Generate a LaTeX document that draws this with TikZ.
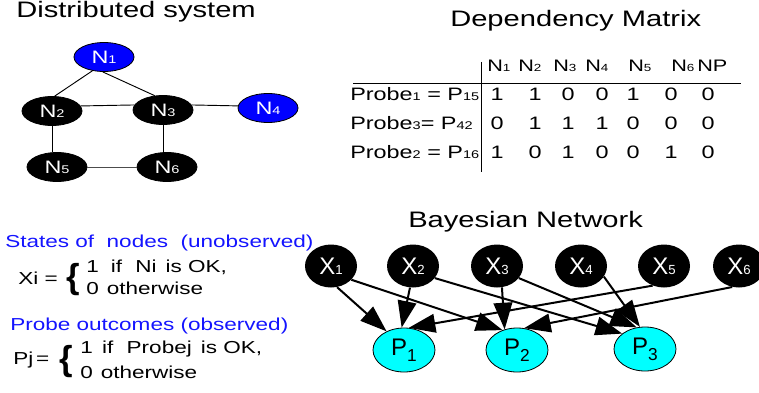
\documentclass[tikz,border=0pt]{standalone}
\usepackage{fontspec}
\usepackage{graphicx}
\setmainfont{Liberation Sans}[FakeStretch=1.3]
\newfontfamily\plainsf{Liberation Sans}
\usetikzlibrary{shapes.geometric,arrows.meta}
\newcommand\sbs[1]{\scalebox{0.62}{#1}}
\newcommand\lsb[1]{\raisebox{-0.45ex}{\scalebox{0.72}{#1}}}
\newcommand\xsb[1]{\scalebox{0.55}{#1}}
\definecolor{nodeblue}{RGB}{0,0,255}
\definecolor{probecyan}{RGB}{0,255,255}
\definecolor{labelblue}{RGB}{20,20,255}
\begin{document}
\begin{tikzpicture}[x=0.75pt,y=-0.75pt,
  title/.style={font=\fontsize{16.8}{18}\selectfont, anchor=base west, inner sep=0},
  gnode/.style={ellipse, draw=black, line width=0.6pt, fill=black, text=white,
    minimum width=45pt, minimum height=21.75pt, inner sep=0, font=\fontsize{13.5}{14}\selectfont},
  bnode/.style={gnode, fill=nodeblue},
  gedge/.style={line width=0.7pt},
  xnode/.style={ellipse, fill=black, text=white, minimum width=39pt, minimum height=32.25pt,
    inner sep=0, font=\plainsf\fontsize{18}{18}\selectfont},
  pnode/.style={ellipse, draw=black, line width=0.6pt, fill=probecyan, minimum width=46.5pt,
    minimum height=33pt, inner sep=0, font=\plainsf\fontsize{18}{18}\selectfont},
  bedge/.style={line width=1.5pt, -{Triangle[length=20pt,width=14pt]}},
  mhead/.style={font=\fontsize{12.5}{14}\selectfont, inner sep=0, anchor=base west},
  mtext/.style={font=\fontsize{13.5}{14}\selectfont, inner sep=0},
  rule/.style={line width=0.75pt},
  btext/.style={font=\fontsize{13}{14}\selectfont, text=labelblue, inner sep=0, anchor=base west},
  etext/.style={font=\fontsize{13}{14}\selectfont, inner sep=0, anchor=base west},
  brace/.style={font=\plainsf\bfseries\fontsize{26}{26}\selectfont, inner sep=0}
]
\useasboundingbox (0,0) rectangle (759,392);
\clip (0,0) rectangle (759,392);

% ---------- Distributed system ----------
\node[title] (tds) at (16,18) {Distributed system};
\node[bnode] (N1) at (104,57) {N\sbs{1}};
\node[gnode] (N2) at (52,111) {N\sbs{2}};
\node[gnode] (N3) at (163,110) {N\sbs{3}};
\node[bnode] (N4) at (268,108) {N\sbs{4}};
\node[gnode] (N5) at (57,167) {N\sbs{5}};
\node[gnode] (N6) at (167,167) {N\sbs{6}};
\draw[gedge] (N1.230) -- (N2.80);
\draw[gedge] (N1.265) -- (N3.120);
\draw[gedge] (N2.10) -- (N3.170);
\draw[gedge] (N3.10) -- (N4.176);
\draw[gedge] (N2.south) -- (N2.south |- N5.north);
\draw[gedge] (N3.south) -- (N3.south |- N6.north);
\draw[gedge, black!70] (N5) -- (N6);

% ---------- Dependency matrix ----------
\node[title] (tdm) at (450,27) {Dependency Matrix};
\node[mhead] (h1) at (487,72) {N\sbs{1}};
\node[mhead] (h2) at (518,72) {N\sbs{2}};
\node[mhead] (h3) at (553,72) {N\sbs{3}};
\node[mhead] (h4) at (585,72) {N\sbs{4}};
\node[mhead] (h5) at (628,72) {N\sbs{5}};
\node[mhead] (h6) at (671,72) {N\sbs{6}};
\node[mhead] (h7) at (697,72) {NP};
\coordinate (hlA) at (353,84);
\coordinate (hlB) at (741,84);
\coordinate (vlA) at (481,62);
\coordinate (vlB) at (481,172);
\draw[rule] (hlA) -- (hlB);
\draw[rule] (vlA) -- (vlB);
\node[mtext, anchor=base west] (r1) at (350,101) {Probe\sbs{1} = P\sbs{15}};
\node[mtext, anchor=base west] (r2) at (350,130) {Probe\sbs{3}= P\sbs{42}};
\node[mtext, anchor=base west] (r3) at (350,158) {Probe\sbs{2} = P\sbs{16}};
\foreach \v/\x [count=\c] in {1/497,1/535,0/568,0/602,1/633,0/671,0/708}
  \node[mtext, anchor=base] (a\c) at (\x,101) {\v};
\foreach \v/\x [count=\c] in {0/497,1/535,1/568,1/602,0/633,0/671,0/708}
  \node[mtext, anchor=base] (b\c) at (\x,130) {\v};
\foreach \v/\x [count=\c] in {1/497,0/535,1/568,0/602,0/633,1/671,0/708}
  \node[mtext, anchor=base] (c\c) at (\x,158) {\v};

% ---------- Variable definitions ----------
\node[btext] (st) at (5,247) {States of\ \ nodes\ \ (unobserved)};
\node[etext] (xi) at (18,284) {Xi =};
\node[brace] (xbr) at (73,280) {\{};
\node[etext] (x1l) at (86,272) {1\hspace{9pt}if\hspace{10pt}Ni\hspace{2pt} is OK,};
\node[etext] (x0l) at (86,294) {0\hspace{6pt}otherwise};
\node[btext] (po) at (10,330) {Probe outcomes (observed)};
\node[etext] (pj) at (13,364) {Pj\,=};
\node[brace] (pbr) at (66,362) {\{};
\node[etext] (p1l) at (80,353) {1\hspace{7pt}if\hspace{10pt}Probej\hspace{2pt} is OK,};
\node[etext] (p0l) at (80,378) {0\hspace{6pt}otherwise};

% ---------- Bayesian network ----------
\node[title] (tbn) at (408,227) {Bayesian Network};
\node[xnode] (X1) at (331,266) {X\xsb{1}};
\node[xnode] (X2) at (413,266) {X\xsb{2}};
\node[xnode] (X3) at (497,266) {X\xsb{3}};
\node[xnode] (X4) at (581,266) {X\xsb{4}};
\node[xnode] (X5) at (664,266) {X\xsb{5}};
\node[xnode] (X6) at (739,266) {X\xsb{6}};
\node[pnode] (P1) at (404,350) {P\lsb{1}};
\node[pnode] (P2) at (517,350) {P\lsb{2}};
\node[pnode] (P3) at (645,349) {P\lsb{3}};
\draw[bedge] (X1.286) -- (P1.133);
\draw[bedge] (X1.326) -- (P2.126);
\draw[bedge] (X2.262) -- (P1.96);
\draw[bedge] (X2.331) -- (P3.146);
\draw[bedge] (X3.283) -- (P2.121);
\draw[bedge] (X3.331) -- (P3.111);
\draw[bedge] (X4.335) -- (P3.103);
\draw[bedge] (X5.240) -- (P1.78);
\draw[bedge] (X6.252) -- (P2.72);
\end{tikzpicture}
\end{document}
